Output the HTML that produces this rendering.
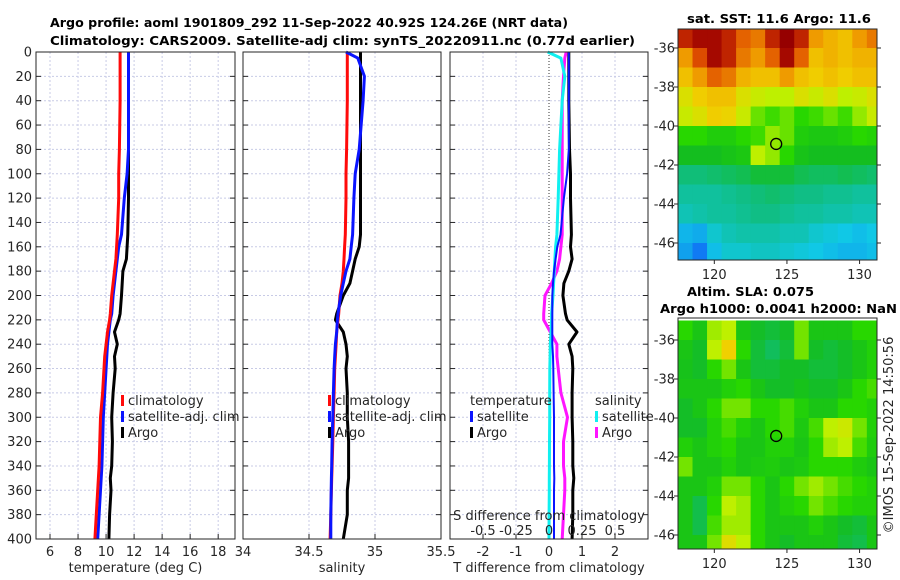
<!DOCTYPE html>
<html><head><meta charset="utf-8"><style>
body{margin:0;background:#fff}
svg{display:block;font-family:"DejaVu Sans","Liberation Sans",sans-serif}
.t{font-size:13px;fill:#262626}
.b{font-weight:bold;font-size:12.5px;fill:#000}
.g{stroke:#c8cbe6;stroke-width:1;stroke-dasharray:2,2}
</style></head><body>
<svg id="c" width="900" height="580" xmlns="http://www.w3.org/2000/svg">
<text class="b" x="50" y="27" textLength="518" lengthAdjust="spacingAndGlyphs">Argo profile: aoml 1901809_292 11-Sep-2022 40.92S 124.26E (NRT data)</text>
<text class="b" x="50" y="45" textLength="585" lengthAdjust="spacingAndGlyphs">Climatology: CARS2009. Satellite-adj clim: synTS_20220911.nc (0.77d earlier)</text>
<text class="b" x="687" y="23" textLength="184" lengthAdjust="spacingAndGlyphs">sat. SST: 11.6 Argo: 11.6</text>
<text class="b" x="687" y="296" textLength="127" lengthAdjust="spacingAndGlyphs">Altim. SLA: 0.075</text>
<text class="b" x="660" y="313" textLength="237" lengthAdjust="spacingAndGlyphs">Argo h1000: 0.0041 h2000: NaN</text>
<text class="t" transform="translate(893,435) rotate(-90)" text-anchor="middle">©IMOS 15-Sep-2022 14:50:56</text>
</svg>
<script>
const depths=[0,5,20,40,80,100,120,150,160,170,180,190,200,215,220,230,240,250,260,280,300,320,340,350,360,380,400];
const tClim=[11.0,11.0,11.0,11.0,10.95,10.9,10.9,10.8,10.75,10.7,10.6,10.5,10.4,10.3,10.25,10.1,10.0,9.9,9.85,9.75,9.6,9.55,9.5,9.45,9.4,9.3,9.2];
const tSat=[11.6,11.6,11.6,11.6,11.6,11.5,11.3,11.1,10.9,10.8,10.7,10.6,10.5,10.4,10.3,10.2,10.1,10.05,10.0,9.9,9.8,9.75,9.7,9.65,9.6,9.5,9.4];
const tArgo=[11.6,11.6,11.6,11.6,11.6,11.6,11.6,11.55,11.5,11.45,11.2,11.15,11.1,11.0,10.9,10.6,10.8,10.6,10.65,10.5,10.4,10.45,10.4,10.3,10.35,10.25,10.2];
const sClim=[34.79,34.79,34.79,34.79,34.785,34.78,34.78,34.775,34.77,34.765,34.76,34.75,34.735,34.725,34.72,34.71,34.705,34.70,34.695,34.69,34.685,34.68,34.675,34.672,34.67,34.665,34.66];
const sSat=[34.78,34.87,34.92,34.91,34.88,34.85,34.84,34.83,34.82,34.81,34.78,34.76,34.74,34.72,34.715,34.71,34.70,34.695,34.69,34.685,34.68,34.675,34.672,34.67,34.668,34.665,34.665];
const sArgo=[34.89,34.89,34.89,34.89,34.89,34.89,34.89,34.89,34.88,34.85,34.83,34.81,34.76,34.71,34.70,34.76,34.78,34.79,34.78,34.79,34.79,34.80,34.80,34.80,34.79,34.79,34.76];
const dTSat=[0.6,0.6,0.6,0.6,0.6,0.55,0.45,0.35,0.25,0.2,0.15,0.12,0.1,0.1,0.1,0.1,0.1,0.12,0.13,0.14,0.15,0.15,0.15,0.16,0.15,0.15,0.15];
const dTArgo=[0.6,0.6,0.6,0.6,0.62,0.65,0.65,0.68,0.65,0.7,0.6,0.45,0.42,0.5,0.55,0.85,0.6,0.7,0.72,0.7,0.7,0.72,0.72,0.75,0.72,0.72,0.7];
const dSSat=[-0.01,0.09,0.12,0.1,0.08,0.075,0.07,0.06,0.05,0.045,0.04,0.035,0.03,0.02,0.02,0.015,0.01,0.008,0.006,0.005,0.005,0.004,0.003,0.002,0.002,0.001,0];
const dSArgo=[0.13,0.12,0.11,0.1,0.1,0.1,0.1,0.1,0.09,0.08,0.06,0.02,-0.03,-0.04,-0.04,0.01,0.06,0.06,0.07,0.09,0.14,0.11,0.11,0.12,0.12,0.11,0.10];
const depthTicks=[0,20,40,60,80,100,120,140,160,180,200,220,240,260,280,300,320,340,360,380,400];
const tTicks=[6,8,10,12,14,16,18];
const sTicks=[34,34.5,35,35.5];
const dTTicks=[-2,-1,0,1,2];
const dSTicks=[-0.5,-0.25,0,0.25,0.5];
const lonTicks=[120,125,130];
const latTicks=[-36,-38,-40,-42,-44,-46];
const sst=[
[14.5,14.8,14.8,14.5,14,13.8,14.5,15,14.5,13.5,13.2,13,13.5,13.8],
[13.5,14.2,14.8,14.5,13.8,13.5,14,14.8,14,13,13.2,13,13.2,13.2],
[13,13.5,14,13.8,13.2,13,13,13.5,13,12.8,13,12.8,13,13],
[12.5,12.8,13,13,12.5,12.3,12.2,12.2,12.5,12.3,12.5,12.2,12.3,12.5],
[12.3,12.5,12.8,12.7,12.3,11.8,11.6,11.8,11.5,11.6,11.8,11.6,12,12.3],
[11.5,11.5,11.3,11.3,11.5,11.6,12,11.8,11.3,11.2,11.2,11.3,11.5,11.4],
[11,11,11,11.1,11.2,12.2,12,11.5,11.1,11,11,11,11,11],
[10.3,10.3,10.4,10.5,10.6,10.8,10.8,10.8,10.6,10.5,10.5,10.6,10.5,10.4],
[10,10,10,10.1,10.2,10.3,10.4,10.3,10.2,10.2,10.1,10.1,10,10],
[9.8,9.9,10,10,10.1,10.2,10.2,10.1,10,10,9.9,9.9,9.8,9.8],
[9.2,9.1,9.6,9.8,9.9,9.9,9.9,9.8,9.8,9.6,9.5,9.4,9.3,9.4],
[9,8.6,9.3,9.6,9.6,9.7,9.7,9.6,9.5,9.4,9.3,9.2,9.2,9.3]];
const sla=[
[.5,.45,.58,.6,.45,.42,.4,.42,.55,.45,.45,.45,.5,.5],
[.45,.42,.6,.68,.5,.4,.36,.4,.55,.42,.4,.42,.45,.48],
[.44,.42,.5,.55,.45,.4,.4,.42,.42,.4,.4,.42,.45,.48],
[.45,.45,.45,.48,.5,.45,.42,.42,.44,.42,.42,.45,.5,.52],
[.42,.45,.5,.55,.55,.5,.5,.52,.48,.45,.45,.5,.5,.48],
[.42,.42,.48,.52,.48,.45,.5,.52,.46,.52,.6,.62,.55,.48],
[.48,.45,.48,.5,.45,.45,.48,.48,.45,.5,.58,.6,.52,.47],
[.55,.45,.45,.48,.45,.46,.47,.45,.46,.5,.5,.5,.47,.45],
[.45,.45,.48,.55,.55,.5,.45,.5,.55,.58,.55,.52,.5,.48],
[.45,.38,.5,.6,.58,.5,.45,.48,.5,.55,.52,.5,.48,.48],
[.45,.38,.52,.58,.58,.5,.45,.45,.45,.48,.45,.42,.4,.45],
[.45,.45,.55,.65,.6,.5,.45,.42,.45,.45,.45,.4,.38,.45]];
const argoLon=124.26, argoLat=-40.92;

const svg=document.getElementById('c');
const NS='http://www.w3.org/2000/svg';
function mk(tag,at,parent){const e=document.createElementNS(NS,tag);for(const k in at)e.setAttribute(k,at[k]);(parent||svg).appendChild(e);return e;}
const Y0=52,Y1=539;
const yD=d=>Y0+d/400*(Y1-Y0);
function lin(d0,d1,p0,p1){return v=>p0+(v-d0)/(d1-d0)*(p1-p0);}

function panel(name,x0,x1,xs,xTicks,grid,label,showY){
  const g=mk('g',{});
  
  
  mk('rect',{x:x0,y:Y0,width:x1-x0,height:Y1-Y0,fill:'#fff'},g);
  grid.forEach(v=>{mk('line',{x1:xs(v),x2:xs(v),y1:Y0,y2:Y1,class:'g'},g);});
  depthTicks.forEach(d=>{if(d>0&&d<400)mk('line',{x1:x0,x2:x1,y1:yD(d),y2:yD(d),class:'g'},g);
    mk('line',{x1:x0,x2:x0+5,y1:yD(d),y2:yD(d),stroke:'#262626'},g);
    mk('line',{x1:x1-5,x2:x1,y1:yD(d),y2:yD(d),stroke:'#262626'},g);
    if(showY){const t=mk('text',{x:x0-4,y:yD(d)+4.5,'text-anchor':'end',class:'t'},g);t.textContent=d;
      
      }});
  xTicks.forEach(v=>{const x=xs(v);mk('line',{x1:x,x2:x,y1:Y1-5,y2:Y1,stroke:'#262626'},g);
    const t=mk('text',{x:x,y:Y1+17,'text-anchor':'middle',class:'t'},g);t.textContent=v;
    
    });
  const l=mk('text',{x:(x0+x1)/2,y:572,'text-anchor':'middle',class:'t'},g);l.textContent=label;
  
  
  return g;
}
function line(g,xs,vals,color,nm,w){
  const pts=vals.map((v,i)=>xs(v).toFixed(1)+','+yD(depths[i]).toFixed(1)).join(' ');
  const p=mk('polyline',{points:pts,fill:'none',stroke:color,'stroke-width':w||3,'stroke-linejoin':'round'},g);
  
  
}
function frame(g,x0,x1){mk('rect',{x:x0,y:Y0,width:x1-x0,height:Y1-Y0,fill:'none',stroke:'#262626','stroke-width':1},g);}
function legend(g,x,y,items){items.forEach((it,i)=>{
  if(it[0])mk('rect',{x:x,y:y+i*16-10,width:3,height:11,fill:it[0]},g);
  const t=mk('text',{x:x+(it[0]?7:0),y:y+i*16,class:'t'},g);t.textContent=it[1];
  
  });}

// panel 1
const xT=lin(5,19.2,36,235);
let g=panel('temperature-panel',36,235,xT,tTicks,[6,8,10,12,14,16,18],'temperature (deg C)',true);
line(g,xT,tArgo,'#000','argo-temperature-line');
line(g,xT,tSat,'#0a14ff','satellite-temperature-line');
line(g,xT,tClim,'#ff0a0a','climatology-temperature-line');
legend(g,121,405,[['#ff0a0a','climatology'],['#0a14ff','satellite-adj. clim'],['#000','Argo']]);
frame(g,36,235);
// panel 2
const xS=lin(34,35.5,243,441);
g=panel('salinity-panel',243,441,xS,sTicks,[34.5,35],'salinity',false);
line(g,xS,sArgo,'#000','argo-salinity-line');
line(g,xS,sClim,'#ff0a0a','climatology-salinity-line');
line(g,xS,sSat,'#0a14ff','satellite-salinity-line');
legend(g,328,405,[['#ff0a0a','climatology'],['#0a14ff','satellite-adj. clim'],['#000','Argo']]);
frame(g,243,441);
// panel 3
const xDT=lin(-3,3,450,648);
const xDS=lin(0,0.25,549,582);
g=panel('difference-panel',450,648,xDT,dTTicks,[-2,-1,1,2],'T difference from climatology',false);
mk('line',{x1:xDT(0),x2:xDT(0),y1:Y0,y2:Y1,stroke:'#333','stroke-dasharray':'1,2'},g);
line(g,xDT,dTArgo,'#000','argo-temp-diff-line');
line(g,xDS,dSArgo,'#ff14ff','argo-sal-diff-line');
line(g,xDS,dSSat,'#10f0f0','satellite-sal-diff-line');
line(g,xDT,dTSat,'#0a14ff','satellite-temp-diff-line',2);
legend(g,470,405,[[null,'temperature'],['#0a14ff','satellite'],['#000','Argo']]);
legend(g,595,405,[[null,'salinity'],['#10f0f0','satellite'],['#ff14ff','Argo']]);
let st=mk('text',{x:549,y:520,'text-anchor':'middle',class:'t'},g);st.textContent='S difference from climatology';


dSTicks.forEach(v=>{const t=mk('text',{x:xDS(v),y:535,'text-anchor':'middle',class:'t'},g);t.textContent=v;
  
  });
frame(g,450,648);

// maps
const stops=[[0,[16,64,255]],[0.2,[16,200,230]],[0.32,[16,190,128]],[0.43,[20,190,30]],[0.5,[40,215,0]],[0.6,[190,240,0]],[0.68,[240,208,0]],[0.78,[240,160,0]],[0.88,[224,80,0]],[0.95,[176,16,0]],[1,[150,0,0]]];
function cmap(t){t=Math.max(0,Math.min(1,t));for(let i=1;i<stops.length;i++){if(t<=stops[i][0]){const a=stops[i-1],b=stops[i],f=(t-a[0])/(b[0]-a[0]);
  return 'rgb('+a[1].map((c,k)=>Math.round(c+f*(b[1][k]-c))).join(',')+')';}}return 'rgb(150,0,0)';}
function map(name,y0,y1,lat36y,vals,norm){
  const x0=678,x1=877;
  const xL=lin(117.5,131.2,x0,x1);
  const yL=lin(-36,-46,lat36y,lat36y+195);
  const g=mk('g',{});
  
  
  const cid='clip'+name;
  const cp=mk('clipPath',{id:cid},g);mk('rect',{x:x0,y:y0,width:x1-x0,height:y1-y0},cp);
  const cg=mk('g',{'clip-path':'url(#'+cid+')'},g);
  vals.forEach((row,r)=>row.forEach((v,c)=>{
    const xa=xL(117.5+c),xb=xL(118.5+c),ya=yL(-35-r),yb=yL(-36-r);
    const cell=mk('rect',{x:xa,y:ya,width:xb-xa+0.5,height:yb-ya+0.5,fill:cmap(norm(v))},cg);
    
    
  }));
  mk('rect',{x:x0,y:y0,width:x1-x0,height:y1-y0,fill:'none',stroke:'#262626'},g);
  const ci=mk('circle',{cx:xL(argoLon),cy:yL(argoLat),r:5.5,fill:'none',stroke:'#000','stroke-width':1.3},g);
  
  
  latTicks.forEach(v=>{const y=yL(v);mk('line',{x1:x0-4,x2:x0,y1:y,y2:y,stroke:'#262626'},g);mk('line',{x1:x1,x2:x1+4,y1:y,y2:y,stroke:'#262626'},g);
    const t=mk('text',{x:x0-3,y:y+4.5,'text-anchor':'end',class:'t'},g);t.textContent=v;
    
    });
  lonTicks.forEach(v=>{const x=xL(v);mk('line',{x1:x,x2:x,y1:y1,y2:y1+4,stroke:'#262626'},g);
    const t=mk('text',{x:x,y:y1+19,'text-anchor':'middle',class:'t'},g);t.textContent=v;
    
    });
}
map('sst-map',29,260,48,sst,v=>(v-8)/7);
map('sla-map',318,549,340,sla,v=>v);
</script>
</body></html>
